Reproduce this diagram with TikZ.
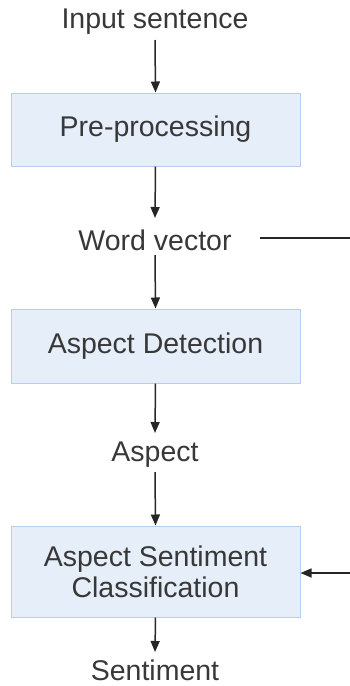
\documentclass[tikz,border=0pt]{standalone}
\usepackage{fontspec}
\setmainfont{Liberation Sans}
\usetikzlibrary{arrows.meta}
\definecolor{boxfill}{HTML}{E6EEF9}
\definecolor{boxline}{HTML}{B8CDEE}
\definecolor{txt}{HTML}{383838}
\begin{document}
\begin{tikzpicture}[x=1pt,y=-1pt,
  every node/.style={font=\fontsize{28.5}{31}\selectfont, text=txt, inner sep=0pt},
  procbox/.style={draw=boxline, fill=boxfill, line width=1pt, minimum width=289pt, align=center},
  lbl/.style={},
  conn/.style={draw=black!85, line width=1.5pt, -{Triangle[length=11pt,width=9pt]}},
  plain/.style={draw=black!85, line width=1.5pt}]
\useasboundingbox (0,0) rectangle (350,686);
\node[lbl] (in) at (155,22) {Input sentence};
\node[procbox, minimum height=73pt] (pre) at (155.5,129.5) {Pre-processing};
\node[lbl] (wv) at (155,240) {Word vector};
\node[procbox, minimum height=74pt] (ad) at (155.5,346) {Aspect Detection};
\node[lbl] (asp) at (155,455) {Aspect};
\node[procbox, minimum height=91pt] (asc) at (155.5,571.5) {Aspect Sentiment\\Classification};
\node[lbl] (sent) at (155,670) {Sentiment};
\coordinate (r1) at (350,238);
\coordinate (r2) at (350,573);
\draw[conn] (155,40) -- (pre.north);
\draw[conn] (pre.south) -- (155,218);
\draw[conn] (155,255) -- (ad.north);
\draw[conn] (ad.south) -- (155,433);
\draw[conn] (155,472) -- (asc.north);
\draw[conn] (asc.south) -- (155,652);
\draw[plain] (260,238) -- (r1);
\draw[conn] (r2) -- (asc.east |- r2);
\end{tikzpicture}
\end{document}
